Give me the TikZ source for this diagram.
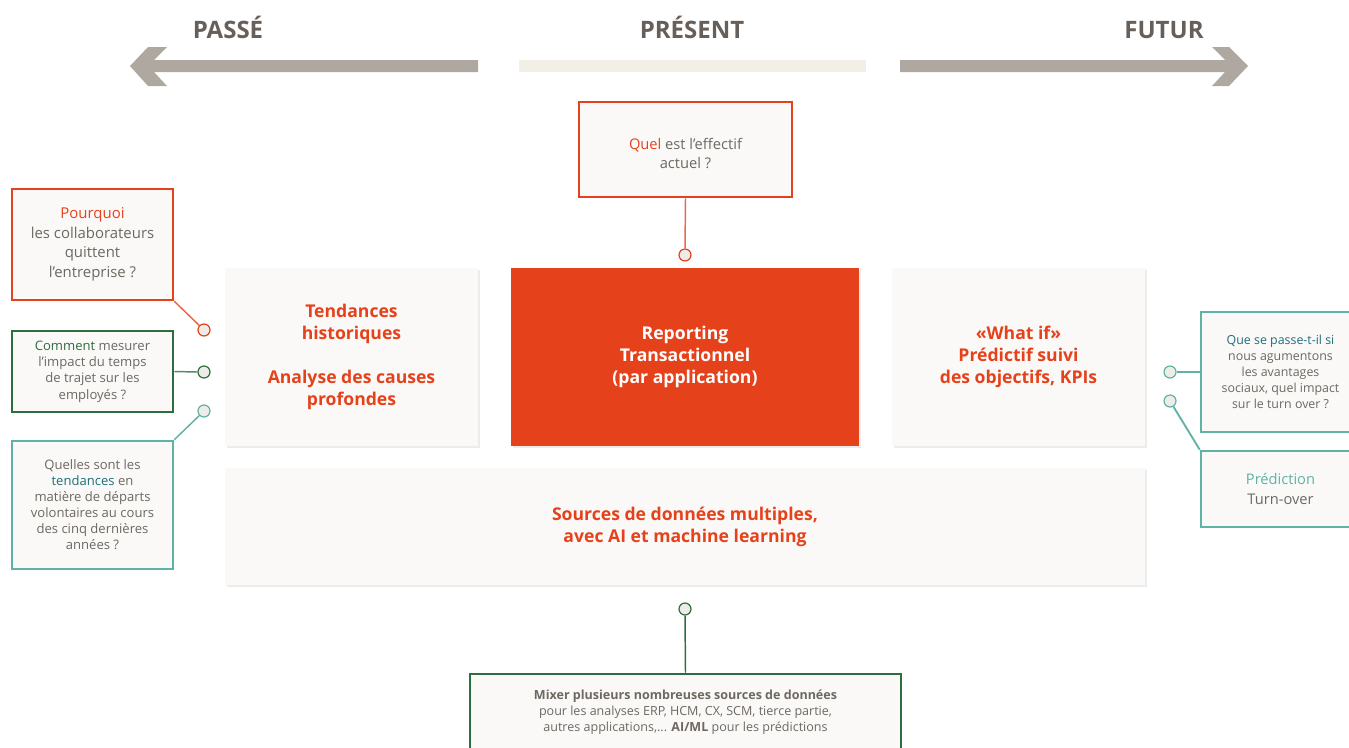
\documentclass[tikz,border=0pt]{standalone}
\usepackage{fontspec}
\setmainfont{Open Sans}
\usetikzlibrary{shadows}
\definecolor{ored}{HTML}{E5421B}
\definecolor{txtgray}{HTML}{6E6862}
\definecolor{ttlgray}{HTML}{675F59}
\definecolor{arrgray}{HTML}{AFA8A0}
\definecolor{barbeige}{HTML}{F2EFE6}
\definecolor{boxfill}{HTML}{FAF9F7}
\definecolor{dgreen}{HTML}{2D6E3F}
\definecolor{lteal}{HTML}{5FB3A5}
\definecolor{dteal}{HTML}{1F6E7A}
\definecolor{dotfill}{HTML}{EEECE8}
\tikzset{
  title/.style={font=\fontsize{18}{20}\selectfont\bfseries, text=ttlgray, anchor=base},
  mainbox/.style={fill=boxfill, draw=none, inner sep=0pt, align=center,
    drop shadow={opacity=0.15, shadow xshift=1.8pt, shadow yshift=-1.8pt},
    text=ored, font=\fontsize{13.2}{16.5}\selectfont\bfseries, minimum height=133.5pt, minimum width=189.75pt},
  callout/.style={fill=boxfill, line width=1.9pt, inner sep=0pt, align=center, text=txtgray},
  dot/.style={circle, minimum size=9pt, inner sep=0pt, fill=dotfill, line width=0.9pt},
  link/.style={line width=1.1pt},
}
\begin{document}
\begin{tikzpicture}[x=0.75pt,y=-0.75pt]
\useasboundingbox (0,0) rectangle (1349,747);
% timeline
\node[title] (passe) at (228,38) {PASSÉ};
\node[title] (present) at (692,38) {PRÉSENT};
\node[title] (futur) at (1164,38) {FUTUR};
\fill[arrgray] (130,66) -- (148,47) -- (167,47) -- (154,60) -- (478,60) -- (478,72) -- (154,72) -- (167,86) -- (148,86) -- cycle;
\fill[barbeige] (519,60) rectangle (866,72);
\fill[arrgray] (1248,66) -- (1229,47) -- (1212,47) -- (1225,60) -- (900,60) -- (900,72) -- (1225,72) -- (1212,86) -- (1229,86) -- cycle;
% main boxes
\node[mainbox] (hist) at (351.5,357) {Tendances\\historiques\\[16.5pt]Analyse des causes\\profondes};
\node[mainbox, fill=ored, text=white, minimum width=261pt] (rep) at (685,357) {Reporting\\Transactionnel\\(par application)};
\node[mainbox] (what) at (1018.5,357) {«What if»\\Prédictif suivi\\des objectifs, KPIs};
\node[mainbox, minimum width=690pt, minimum height=87.75pt] (src) at (685,526.5) {Sources de données multiples,\\avec AI et machine learning};
% top callout
\node[callout, draw=ored, minimum width=159.75pt, minimum height=71.25pt, font=\fontsize{11}{14.3}\selectfont] (q) at (685.5,149.5) {\rule{0pt}{14pt}\textcolor{ored}{Quel} est l’effectif\\actuel ?};
\node[dot, draw=ored] (c1) at (685,255) {};
\draw[link, draw=ored!80] (q.south) -- (c1.north);
% left callouts
\node[callout, draw=ored, minimum width=120.75pt, minimum height=83.25pt, font=\fontsize{11.2}{14.6}\selectfont] (pq) at (92.5,244.5) {\textcolor{ored}{Pourquoi}\\les collaborateurs\\quittent\\l'entreprise ?};
\node[callout, draw=dgreen, minimum width=120.75pt, minimum height=60.75pt, font=\fontsize{9.8}{12.2}\selectfont] (cm) at (92.5,371.5) {\textcolor{dgreen}{Comment} mesurer\\l’impact du temps\\de trajet sur les\\employés ?};
\node[callout, draw=lteal, minimum width=120.75pt, minimum height=96pt, font=\fontsize{9.8}{12}\selectfont] (qs) at (92.5,505) {Quelles sont les\\\textcolor{dteal}{tendances} en\\matière de départs\\volontaires au cours\\des cinq dernières\\années ?};
\node[dot, draw=ored] (c2) at (204,330) {};
\node[dot, draw=dgreen] (c3) at (204,372) {};
\node[dot, draw=lteal] (c4) at (204,411) {};
\draw[link, draw=ored!80] (pq.south east) -- (c2);
\draw[link, draw=dgreen!80] (cm.east) -- (c3.west);
\draw[link, draw=lteal] (qs.north east) -- (c4);
% right callouts
\node[callout, draw=lteal, minimum width=119.25pt, minimum height=90pt, font=\fontsize{9.3}{12}\selectfont] (qp) at (1280.5,372) {\textcolor{dteal}{Que se passe-t-il si}\\nous agumentons\\les avantages\\sociaux, quel impact\\sur le turn over ?};
\node[callout, draw=lteal, minimum width=119.25pt, minimum height=57pt, font=\fontsize{11}{15}\selectfont] (pr) at (1280.5,489) {\textcolor{lteal}{Prédiction}\\Turn-over};
\node[dot, draw=lteal] (c5) at (1170,372) {};
\node[dot, draw=lteal] (c6) at (1170,401) {};
\draw[link, draw=lteal, line width=1.4pt] (c5.east) -- (qp.west);
\draw[link, draw=lteal, line width=1.4pt] (c6) -- (pr.north west);
% bottom callout
\node[dot, draw=dgreen] (c7) at (685,609) {};
\node[callout, draw=dgreen, minimum width=323.25pt, minimum height=57pt, font=\fontsize{9.4}{12}\selectfont] (mix) at (685.5,712) {\textbf{Mixer plusieurs nombreuses sources de données}\\pour les analyses ERP, HCM, CX, SCM, tierce partie,\\autres applications,... \textbf{AI/ML} pour les prédictions};
\draw[link, draw=dgreen] (c7.south) -- (mix.north);
\end{tikzpicture}
\end{document}
